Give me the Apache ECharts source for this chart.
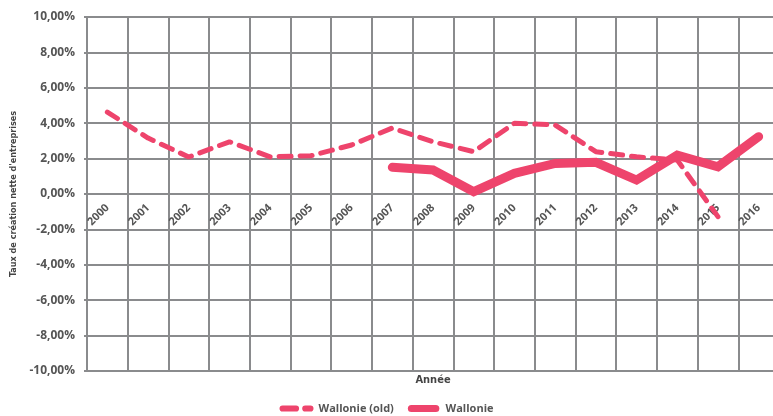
<!DOCTYPE html>
<html>
<head>
<meta charset="utf-8">
<script src="https://cdn.jsdelivr.net/npm/echarts@6/dist/echarts.min.js"></script>
<style>
  html, body { margin: 0; padding: 0; background: #fff; }
  #chart { width: 773px; height: 416px; }
</style>
</head>
<body>
<div id="chart"></div>
<script>
// données
var annees = ['2000', '2001', '2002', '2003', '2004', '2005', '2006', '2007', '2008',
	'2009', '2010', '2011', '2012', '2013', '2014', '2015', '2016'];
var wallonieOld = [4.63, 3.16, 2.09, 2.95, 2.10, 2.16, 2.77, 3.73, 2.95,
	2.39, 4.00, 3.90, 2.39, 2.10, 1.92, -1.28, null];
var wallonie = [null, null, null, null, null, null, null, 1.51, 1.36,
	0.13, 1.17, 1.73, 1.79, 0.79, 2.20, 1.54, 3.24];

var rouge = '#ee446c';
var gris = '#8a8b8d';
var police = "'Liberation Sans Narrow', 'DejaVu Sans Condensed', sans-serif";

// icônes de la légende
var iconTirets = 'path://M3 0h13a3 3 0 0 1 0 6h-13a3 3 0 0 1 0-6z M25 0h5a3 3 0 0 1 0 6h-5a3 3 0 0 1 0-6z';
var iconPlein = 'path://M4 0h28a4 4 0 0 1 0 8h-28a4 4 0 0 1 0-8z';

var chart = echarts.init(document.getElementById('chart'));
var option = {
	animation : false,
	grid : {
		left : 87,
		top : 17,
		bottom : 45,
		right : -6,
		containLabel : false,
		outerBoundsMode : 'none'
	},
	legend : {
		bottom : -3,
		left : 'center',
		padding : [ 5, 0, 5, 10 ],
		itemWidth : 34,
		itemHeight : 7,
		itemGap : 14,
		textStyle : {
			color : '#555',
			fontWeight : 'bold',
			fontSize : 11,
			fontFamily : "'Open Sans', sans-serif"
		},
		data : [ {
			name : 'Wallonie (old)',
			icon : iconTirets
		}, {
			name : 'Wallonie',
			icon : iconPlein
		} ]
	},
	xAxis : {
		type : 'category',
		data : annees,
		// l'axe est placé sur la ligne 0 %
		offset : -177,
		name : 'Année',
		nameLocation : 'middle',
		nameGap : 181,
		nameTextStyle : {
			color : '#444',
			fontWeight : 'bold',
			fontSize : 11,
			fontFamily : police
		},
		axisLine : {
			onZero : false,
			lineStyle : { color : gris, width : 2 }
		},
		axisTick : { show : false },
		axisLabel : {
			rotate : 45,
			margin : 12,
			color : '#555',
			fontWeight : 'bold',
			fontSize : 11,
			fontFamily : "'Open Sans', sans-serif"
		},
		splitLine : {
			show : true,
			lineStyle : { color : gris, width : 2 }
		}
	},
	yAxis : {
		type : 'value',
		min : -10,
		max : 10,
		interval : 2,
		name : "Taux de création nette d'entreprises",
		nameLocation : 'middle',
		nameGap : 66,
		nameTextStyle : {
			color : '#444',
			fontWeight : 'bold',
			fontSize : 9,
			fontFamily : police
		},
		axisLine : {
			show : true,
			lineStyle : { color : gris, width : 2 }
		},
		axisTick : {
			show : true,
			length : 3,
			lineStyle : { color : gris, width : 2 }
		},
		axisLabel : {
			margin : 12,
			color : '#555',
			fontWeight : 'bold',
			fontSize : 12,
			fontFamily : "'Open Sans', sans-serif",
			formatter : function(v) {
				return v.toFixed(2).replace('.', ',') + '%';
			}
		},
		splitLine : {
			lineStyle : { color : gris, width : 2 }
		}
	},
	series : [ {
		name : 'Wallonie (old)',
		type : 'line',
		data : wallonieOld,
		symbol : 'none',
		color : rouge,
		lineStyle : {
			color : rouge,
			width : 5,
			type : [ 12, 9 ],
			cap : 'round'
		}
	}, {
		name : 'Wallonie',
		type : 'line',
		data : wallonie,
		symbol : 'none',
		color : rouge,
		lineStyle : {
			color : rouge,
			width : 9,
			cap : 'round',
			join : 'miter'
		}
	} ]
};
chart.setOption(option);
</script>
</body>
</html>
